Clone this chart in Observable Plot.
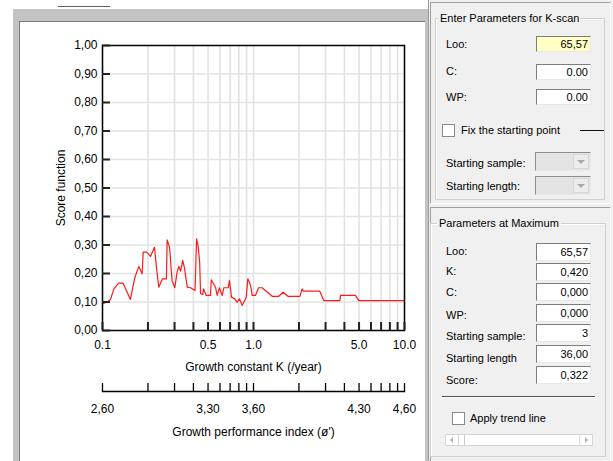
<!DOCTYPE html>
<html><head><meta charset="utf-8">
<script src="https://cdn.jsdelivr.net/npm/d3@7"></script>
<script src="https://cdn.jsdelivr.net/npm/@observablehq/plot@0.6"></script>
<style>
html,body{margin:0;padding:0;background:#fff;}
#root{position:relative;width:613px;height:461px;overflow:hidden;background:#fff;font-family:"Liberation Sans",Arial,sans-serif;}
.abs{position:absolute;}
#frameL{left:13px;top:9px;width:417px;height:470px;background:#c3c3c3;}
#inner{left:19px;top:21px;width:406px;height:460px;background:#fff;border-top:1px solid #7a7a7a;border-left:1px solid #7a7a7a;box-sizing:border-box;}
#chart{left:20px;top:22px;}
#phi{left:20px;top:362px;}
#rp{left:428px;top:0;width:185px;height:461px;background:#f0f0f0;border-left:1px solid #9a9a9a;box-sizing:border-box;}
.pane{border:1px solid;border-color:#a0a0a0 #fff #fff #a0a0a0;box-sizing:border-box;}
.grp{border:1px solid #d0d0d0;box-shadow:inset 1px 1px 0 #fff;box-sizing:border-box;}
.lg{font-size:11px;line-height:14px;background:#f0f0f0;padding:0 2px;color:#000;white-space:nowrap;}
.lb{font-size:11px;line-height:14px;height:14px;color:#000;white-space:nowrap;}
.in{background:#fff;border:1px solid;border-color:#7d7d7d #e8e8e8 #e8e8e8 #7d7d7d;box-sizing:border-box;font-size:11px;text-align:right;padding-right:2px;color:#000;width:55px;}
.cb{width:13px;height:13px;background:#fff;border:1px solid #8a8a8a;box-sizing:border-box;}
.dd{background:#e4e4e4;border:1px solid;border-color:#8d8d8d #e8e8e8 #e8e8e8 #8d8d8d;box-sizing:border-box;width:56px;height:19px;}
.ddb{position:absolute;right:1px;top:1px;width:16px;height:15px;background:#ececec;border:1px solid #d6d6d6;box-sizing:border-box;}
.tri{position:absolute;width:0;height:0;border-left:4px solid transparent;border-right:4px solid transparent;border-top:4px solid #a8a8a8;left:3px;top:5px;}
</style></head>
<body>
<div id="root">
<div class="abs" style="left:58px;top:6px;width:52px;height:1px;background:#606060"></div>
<div id="frameL" class="abs"></div>
<div id="inner" class="abs"></div>
<div id="chart" class="abs"></div>
<div id="phi" class="abs"></div>
<div id="rp" class="abs"></div>
<div class="abs pane" style="left:430px;top:2px;width:181px;height:202px"></div>
<div class="abs pane" style="left:430px;top:207px;width:181px;height:256px"></div>

<div class="abs grp" style="left:435px;top:18px;width:170px;height:182px"></div>
<div class="abs lg" style="left:438px;top:11px">Enter Parameters for K-scan</div>
<div class="abs lb" style="left:446px;top:37px">Loo:</div>
<div class="abs in" style="left:536px;top:36px;height:16px;line-height:14px;background:#ffffc6">65,57</div>
<div class="abs lb" style="left:446px;top:64px">C:</div>
<div class="abs in" style="left:536px;top:64px;height:16px;line-height:14px">0.00</div>
<div class="abs lb" style="left:446px;top:90px">WP:</div>
<div class="abs in" style="left:536px;top:89px;height:16px;line-height:14px">0.00</div>
<div class="abs cb" style="left:442px;top:124px"></div>
<div class="abs lb" style="left:461px;top:123px">Fix the starting point</div>
<div class="abs" style="left:580px;top:130px;width:24px;height:1px;background:#111"></div>
<div class="abs lb" style="left:446px;top:156px">Starting sample:</div>
<div class="abs dd" style="left:535px;top:152px"><div class="ddb"><div class="tri"></div></div></div>
<div class="abs lb" style="left:446px;top:179px">Starting length:</div>
<div class="abs dd" style="left:535px;top:176px"><div class="ddb"><div class="tri"></div></div></div>

<div class="abs grp" style="left:430px;top:223px;width:176px;height:234px"></div>
<div class="abs lg" style="left:437px;top:216px">Parameters at Maximum</div>
<div class="abs lb" style="left:446px;top:244px">Loo:</div>
<div class="abs in" style="left:536px;top:243px;height:18px;line-height:16px">65,57</div>
<div class="abs lb" style="left:446px;top:264px">K:</div>
<div class="abs in" style="left:536px;top:263px;height:18px;line-height:16px">0,420</div>
<div class="abs lb" style="left:446px;top:285px">C:</div>
<div class="abs in" style="left:536px;top:283px;height:18px;line-height:16px">0,000</div>
<div class="abs lb" style="left:446px;top:308px">WP:</div>
<div class="abs in" style="left:536px;top:304px;height:18px;line-height:16px">0,000</div>
<div class="abs lb" style="left:446px;top:329px">Starting sample:</div>
<div class="abs in" style="left:536px;top:324px;height:18px;line-height:16px">3</div>
<div class="abs lb" style="left:446px;top:351px">Starting length</div>
<div class="abs in" style="left:536px;top:345px;height:18px;line-height:16px">36,00</div>
<div class="abs lb" style="left:446px;top:373px">Score:</div>
<div class="abs in" style="left:536px;top:366px;height:18px;line-height:16px">0,322</div>
<div class="abs" style="left:442px;top:396px;width:153px;height:1px;background:#505050;border-bottom:1px solid #fff"></div>
<div class="abs cb" style="left:452px;top:412px"></div>
<div class="abs lb" style="left:470px;top:411px">Apply trend line</div>
<div class="abs" style="left:445px;top:434px;width:148px;height:12px;background:#fff;border:1px solid #d6d6d6;box-sizing:border-box">
  <div class="abs" style="left:0;top:0;width:12px;height:10px;border-right:1px solid #e0e0e0"><div class="abs" style="left:4px;top:2px;width:0;height:0;border-top:3px solid transparent;border-bottom:3px solid transparent;border-right:3px solid #b0b0b0"></div></div>
  <div class="abs" style="left:13px;top:0;width:5px;height:10px;border-right:1px solid #c8c8c8"></div>
  <div class="abs" style="right:0;top:0;width:12px;height:10px;border-left:1px solid #e0e0e0"><div class="abs" style="left:5px;top:2px;width:0;height:0;border-top:3px solid transparent;border-bottom:3px solid transparent;border-left:3px solid #b0b0b0"></div></div>
</div>
</div>
<script>
// K-scan data
const kValues = [0.100, 0.107, 0.113, 0.119, 0.128, 0.137, 0.153, 0.164, 0.174, 0.183, 0.186, 0.196, 0.208, 0.221, 0.228, 0.236, 0.249, 0.265, 0.268, 0.278, 0.289, 0.301, 0.312, 0.320, 0.329, 0.340, 0.349, 0.364, 0.383, 0.410, 0.420, 0.430, 0.440, 0.446, 0.461, 0.467, 0.486, 0.519, 0.525, 0.560, 0.575, 0.595, 0.621, 0.636, 0.680, 0.693, 0.715, 0.752, 0.780, 0.808, 0.842, 0.895, 0.917, 0.941, 0.966, 0.980, 1.03, 1.08, 1.14, 1.33, 1.47, 1.57, 1.69, 2.03, 2.10, 2.14, 2.75, 2.92, 3.73, 3.77, 4.74, 4.98, 10.0];
const scoreValues = [0.094, 0.099, 0.109, 0.146, 0.166, 0.166, 0.109, 0.187, 0.225, 0.199, 0.275, 0.275, 0.260, 0.292, 0.218, 0.152, 0.181, 0.181, 0.318, 0.292, 0.175, 0.150, 0.205, 0.225, 0.208, 0.246, 0.220, 0.152, 0.150, 0.140, 0.322, 0.295, 0.240, 0.130, 0.126, 0.146, 0.123, 0.123, 0.178, 0.152, 0.123, 0.150, 0.123, 0.150, 0.150, 0.175, 0.117, 0.111, 0.099, 0.111, 0.088, 0.117, 0.181, 0.170, 0.146, 0.123, 0.123, 0.150, 0.150, 0.120, 0.120, 0.134, 0.120, 0.120, 0.146, 0.138, 0.138, 0.105, 0.105, 0.123, 0.123, 0.105, 0.105];
const yTicks = [0, 0.1, 0.2, 0.3, 0.4, 0.5, 0.6, 0.7, 0.8, 0.9, 1.0];
const yTickLabels = ["0,00", "0,10", "0,20", "0,30", "0,40", "0,50", "0,60", "0,70", "0,80", "0,90", "1,00"];
const kTicks = [0.1, 0.2, 0.3, 0.4, 0.5, 0.6, 0.7, 0.8, 0.9, 1, 2, 3, 4, 5, 6, 7, 8, 9, 10];
const kLabelTicks = [0.1, 0.5, 1, 5, 10];
const kTickLabels = ["0.1", "0.5", "1.0", "5.0", "10.0"];
const phiTickLabels = ["2,60", "3,30", "3,60", "4,30", "4,60"];
const xTitle = "Growth constant K (/year)";
const yTitle = "Score function";
const phiTitle = "Growth performance index (ø')";

const scan = kValues.map((k, i) => ({k, score: scoreValues[i]}));
const font = {fontFamily: '"Liberation Sans", Arial, sans-serif', fontSize: "12px", color: "#000", background: "transparent", overflow: "visible"};
const gridStyle = {stroke: "#e3e3e3", strokeOpacity: 1, strokeWidth: 1.6};

const chart = Plot.plot({
  width: 405, height: 360,
  marginLeft: 82, marginRight: 21, marginTop: 23, marginBottom: 52,
  style: font,
  x: {type: "log", domain: [0.1, 10]},
  y: {domain: [0, 1]},
  marks: [
    Plot.gridX(kTicks, gridStyle),
    Plot.gridY(yTicks.slice(1, -1), gridStyle),
    Plot.line(scan, {x: "k", y: "score", stroke: "#ff1a1a", strokeWidth: 1.2}),
    Plot.frame({stroke: "#000", strokeWidth: 1.5}),
    Plot.axisY({ticks: yTicks, tickSize: 8, dx: 8, tickFormat: () => "", label: null, stroke: "#222", strokeWidth: 2}),
    Plot.axisY({ticks: yTicks, tickSize: 0, tickPadding: 5, tickFormat: d => yTickLabels[yTicks.indexOf(d)], label: yTitle, labelAnchor: "center", labelOffset: 46, labelArrow: "none"}),
    Plot.axisX({ticks: kTicks, tickSize: 8, dy: -8, tickFormat: () => "", label: null, stroke: "#222", strokeWidth: 2}),
    Plot.axisX({ticks: kLabelTicks, tickSize: 0, tickPadding: 10, tickFormat: d => kTickLabels[kLabelTicks.indexOf(d)], label: xTitle, labelAnchor: "center", labelOffset: 40, labelArrow: "none"})
  ]
});
document.getElementById("chart").appendChild(chart);

const phi = Plot.plot({
  width: 405, height: 90,
  marginLeft: 82, marginRight: 21, marginTop: 0, marginBottom: 61,
  style: font,
  x: {type: "log", domain: [0.1, 10]},
  marks: [
    Plot.frame({anchor: "bottom", stroke: "#000", strokeWidth: 1.3}),
    Plot.axisX({ticks: kTicks, tickSize: 8, dy: -8, tickFormat: () => "", label: null, stroke: "#000", strokeWidth: 1.3}),
    Plot.axisX({ticks: kLabelTicks, tickSize: 0, tickPadding: 13, tickFormat: d => phiTickLabels[kLabelTicks.indexOf(d)], label: phiTitle, labelAnchor: "center", labelOffset: 44, labelArrow: "none"})
  ]
});
document.getElementById("phi").appendChild(phi);
</script>
</body></html>
